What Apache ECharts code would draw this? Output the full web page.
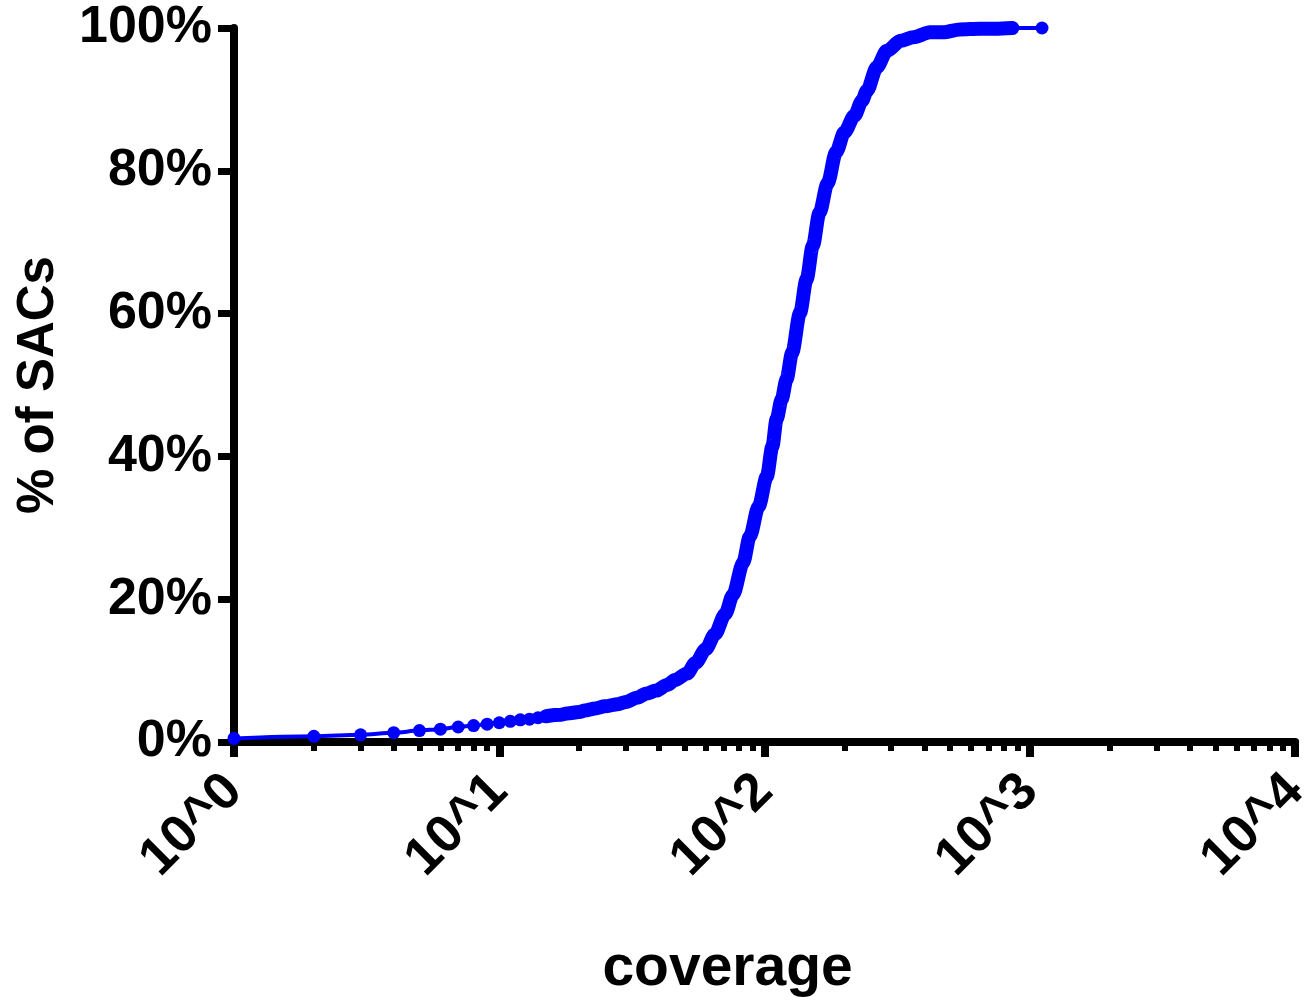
<!DOCTYPE html>
<html>
<head>
<meta charset="utf-8">
<script src="https://cdn.jsdelivr.net/npm/echarts@6/dist/echarts.min.js"></script>
<style>
html,body{margin:0;padding:0;background:#fff;}
#chart{width:1316px;height:1003px;}
</style>
</head>
<body>
<div id="chart"></div>
<script>
// coverage values (x) and cumulative % of SACs (y)
var coverage = [1,2,3,4,5,6,7,8,9,10,11,12,13,14,15,
  17,18,20,21,23,25,28,30,33,36,39,43,46,51,
  55,60,65,71,76,83,88,95,
  102,107,111,116,121,127,136,144,152,161,173,186,200,
  218,233,243,265,289,326,364,421,471,545,647,742,859,1111];
var percentSACs = [0.5,0.8,1.0,1.3,1.6,1.8,2.1,2.3,2.5,2.7,2.9,3.1,3.2,3.4,3.6,
  3.8,4.0,4.2,4.4,4.7,5.0,5.3,5.6,6.2,6.8,7.2,8.0,8.7,9.6,
  11.1,13.0,15.1,17.9,20.6,25.1,28.8,33.0,
  37.2,41.4,45.2,48.0,50.8,54.5,60.1,64.8,69.5,74.1,78.3,82.6,85.4,
  87.7,89.8,91.2,94.5,96.8,98.2,98.7,99.4,99.4,99.8,99.9,99.9,100,100];
var xMajorTicks = [1,10,100,1000,10000];
var xMinorMultipliers = [2,3,4,5,6,7,8,9];

var points = coverage.map(function(c,i){return [c, percentSACs[i]];});
var densePoints = points.filter(function(p){return p[0] >= 15 && p[0] <= 859;});

var minorLogValues = [];
for (var d = 0; d < xMajorTicks.length - 1; d++) {
  xMinorMultipliers.forEach(function(m){ minorLogValues.push(Math.log10(m * xMajorTicks[d])); });
}

var FONT = 'Liberation Sans';
var BLUE = '#0000ff';
var chart = echarts.init(document.getElementById('chart'), null, {renderer:'canvas'});
chart.setOption({
  animation: false,
  backgroundColor: '#ffffff',
  grid: {left: 234, right: 10, top: 28, bottom: 260, containLabel: false},
  xAxis: [{
    type: 'log', logBase: 10, min: 1, max: 10000,
    position: 'bottom',
    name: 'coverage', nameLocation: 'middle', nameGap: 199,
    nameTextStyle: {fontFamily: FONT, fontWeight: 'bold', fontSize: 57, color: '#000', padding: [0, 74, 0, 0]},
    axisLine: {show: true, lineStyle: {color: '#000', width: 8}},
    axisTick: {show: true, length: 15, lineStyle: {color: '#000', width: 8}},
    axisLabel: {
      show: true, rotate: 45, margin: 41,
      fontFamily: FONT, fontWeight: 'bold', fontSize: 53, color: '#000',
      formatter: function(v){ return '10^' + Math.round(Math.log10(v)); }
    },
    splitLine: {show: false},
    minorTick: {show: false}
  }, {
    type: 'value', min: 0, max: 4, position: 'bottom',
    axisLine: {show: false},
    axisLabel: {show: false},
    splitLine: {show: false},
    axisTick: {show: true, length: 9, customValues: minorLogValues, lineStyle: {color: '#000', width: 6}}
  }],
  yAxis: {
    type: 'value', min: 0, max: 100, interval: 20,
    name: '% of SACs', nameLocation: 'middle', nameGap: 170,
    nameTextStyle: {fontFamily: FONT, fontWeight: 'bold', fontSize: 51, color: '#000'},
    axisLine: {show: true, lineStyle: {color: '#000', width: 8}},
    axisTick: {show: true, length: 16, lineStyle: {color: '#000', width: 7}},
    axisLabel: {
      margin: 22, fontFamily: FONT, fontWeight: 'bold', fontSize: 52, color: '#000',
      formatter: '{value}%'
    },
    splitLine: {show: false}
  },
  series: [{
    type: 'line', xAxisIndex: 0, data: densePoints,
    showSymbol: false, symbol: 'none', z: 2,
    smooth: 0.3, smoothMonotone: 'x',
    lineStyle: {color: BLUE, width: 14, cap: 'round', join: 'round'}
  }, {
    type: 'line', xAxisIndex: 0, data: points,
    symbol: 'circle', symbolSize: 13, showAllSymbol: true, z: 3,
    smooth: 0.3, smoothMonotone: 'x',
    itemStyle: {color: BLUE},
    lineStyle: {color: BLUE, width: 4}
  }]
});
</script>
</body>
</html>
